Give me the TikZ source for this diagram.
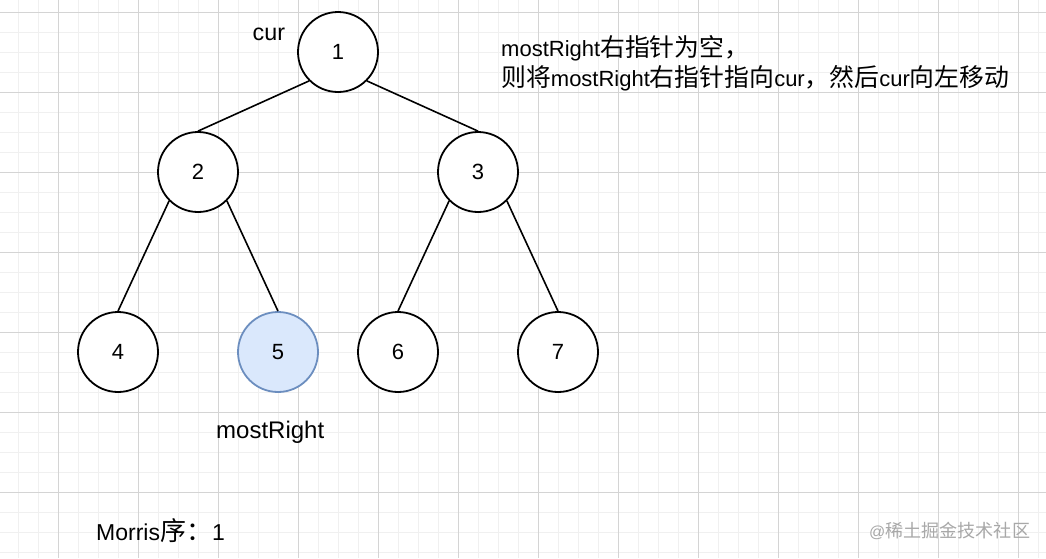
\documentclass[tikz,border=0pt]{standalone}
\usepackage{fontspec}
\setmainfont{Liberation Sans}
\newfontfamily\cjk[Scale=1.13]{Noto Sans CJK SC}
\newcommand\zh[1]{{\cjk #1}}
\definecolor{minorgrid}{HTML}{F0F0F0}
\definecolor{majorgrid}{HTML}{D4D4D4}
\definecolor{mrfill}{HTML}{DAE8FC}
\definecolor{mrdraw}{HTML}{6C8EBF}
\definecolor{wmgray}{HTML}{A8A8A8}
\begin{document}
\begin{tikzpicture}[x=1pt,y=-1pt,
  tn/.style={circle,draw=black,line width=1.8pt,fill=white,minimum size=80pt,inner sep=0pt,
             font=\fontsize{22}{26}\selectfont},
  mr/.style={tn,draw=mrdraw,fill=mrfill},
  edge/.style={draw=black,line width=1.6pt},
  lbl/.style={inner sep=0pt,anchor=base west,font=\fontsize{22}{26}\selectfont},
  wm/.style={inner sep=0pt,anchor=base west,text=wmgray,font=\fontsize{16}{20}\selectfont},
  minor/.style={draw=minorgrid,line width=1pt},
  major/.style={draw=majorgrid,line width=1pt}]
\useasboundingbox (0,0) rectangle (1046,558);
\fill[white] (0,0) rectangle (1046,558);
% grid
\foreach \x in {18,38,...,1040} \draw[minor] (\x,0) -- (\x,558);
\foreach \y in {12,32,...,556} \draw[minor] (0,\y) -- (1046,\y);
\foreach \x in {58,138,...,1040} \draw[major] (\x,0) -- (\x,558);
\foreach \y in {12,92,...,556} \draw[major] (0,\y) -- (1046,\y);
% nodes
\node[tn] (n1) at (338,52) {1};
\node[tn] (n2) at (198,172) {2};
\node[tn] (n3) at (478,172) {3};
\node[tn] (n4) at (118,352) {4};
\node[mr] (n5) at (278,352) {5};
\node[tn] (n6) at (398,352) {6};
\node[tn] (n7) at (558,352) {7};
% edges
\draw[edge] (n1.225) -- (n2.north);
\draw[edge] (n1.-45) -- (n3.north);
\draw[edge] (n2.225) -- (n4.north);
\draw[edge] (n2.-45) -- (n5.north);
\draw[edge] (n3.225) -- (n6.north);
\draw[edge] (n3.-45) -- (n7.north);
% labels
\node[lbl,font=\fontsize{23.3}{27}\selectfont] (cur) at (252.5,40) {cur};
\node[lbl,font=\fontsize{24}{28}\selectfont] (mrl) at (216,438) {mostRight};
\node[lbl] (t1) at (501,56) {mostRight\zh{右指针为空，}};
\node[lbl] (t2) at (501,86) {\zh{则将}mostRight\zh{右指针指向}cur\zh{，然后}cur\zh{向左移动}};
\node[lbl,font=\fontsize{23}{27}\selectfont] (morris) at (96,540) {Morris\zh{序：}1};
\node[wm] (wmk) at (869,537) {@\zh{稀土掘金技术社区}};
\end{tikzpicture}
\end{document}
